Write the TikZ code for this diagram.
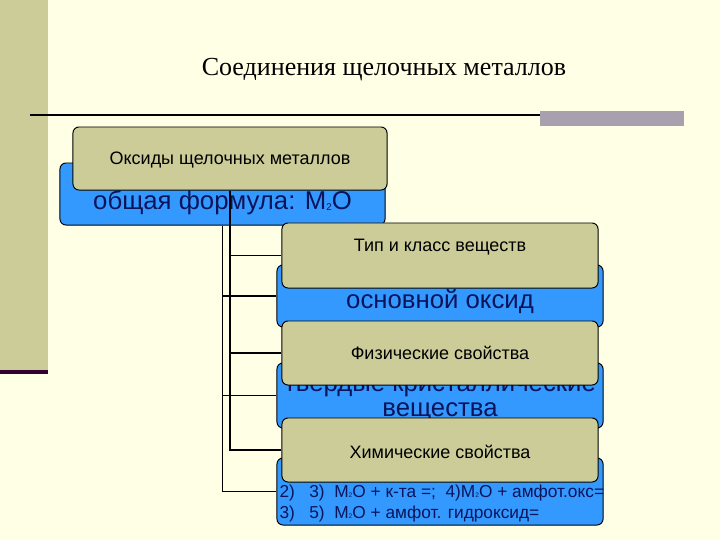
\documentclass[tikz,border=0pt]{standalone}
\usepackage{fontspec}
\setmainfont{Liberation Sans}
\newfontfamily\titlefont{Liberation Serif}
\usepackage{tikz}
\usetikzlibrary{positioning}

\definecolor{paper}{RGB}{255,255,229}
\definecolor{khaki}{RGB}{204,204,153}
\definecolor{boxblue}{RGB}{51,153,255}
\definecolor{navytext}{RGB}{10,20,90}
\definecolor{plum}{RGB}{51,0,51}
\definecolor{bargray}{RGB}{168,160,174}

\newcommand{\tinysub}[1]{\raisebox{-0.02em}{\fontsize{0.38em}{0.4em}\selectfont #1}}

\tikzset{
    khakibox/.style={draw=black, fill=khaki, rounded corners=0.15cm, line width=0.7pt,
        minimum width=7.9cm, minimum height=1.6cm, inner sep=0pt},
    bluebox/.style={draw=black, fill=boxblue, rounded corners=0.15cm, line width=0.7pt,
        minimum width=8.15cm, minimum height=1.55cm, inner sep=0pt},
    khakitext/.style={inner sep=0pt, font=\fontsize{12.8}{15}\selectfont},
    bluetext/.style={inner sep=0pt, text=navytext, align=center, font=\fontsize{18.3}{18}\selectfont},
    branch/.style={line width=1.4pt}
}

\begin{document}
\begin{tikzpicture}[x=0.025cm, y=-0.025cm]
    \fill[paper] (0,0) rectangle (720,540);
    \useasboundingbox (0,0) rectangle (720,540);
    \fill[khaki] (0,0) rectangle (48,370);
    \fill[plum] (0,370) rectangle (48,374);
    \draw[line width=1.5pt] (30,115) -- (540,115);
    \fill[bargray] (540,111) rectangle (684,126);

    \node[font=\titlefont\fontsize{18.5}{20}\selectfont] (title) at (384,70) {Соединения щелочных металлов};

    % top level
    \node[bluebox, minimum width=8.125cm] (b1) at (222.5,194) {};
    \node[khakibox, minimum width=7.85cm, minimum height=1.575cm] (k1) at (230,158.5) {};
    \node[khakitext] (k1t) at ([yshift=-0.04cm]k1.center) {Оксиды щелочных металлов};
    \node[bluetext] (b1t) at ([yshift=-0.22cm]b1.center) {общая формула: M\tinysub{2}O};

    % second level
    \node[bluebox] (b2) at (440,296) {};
    \node[bluetext] (b2t) at ([yshift=-0.15cm]b2.center) {основной оксид};
    \node[khakibox, minimum height=1.625cm] (k2) at (440,255.5) {};
    \node[khakitext] (k2t) at ([yshift=0.21cm]k2.center) {Тип и класс веществ};

    \node[bluebox, minimum height=1.625cm] (b3) at (440,395.5) {};
    \node[bluetext] (b3t) at ([yshift=-0.1cm]b3.center) {твердые кристаллические\\вещества};
    \node[khakibox] (k3) at (440,353) {};
    \node[khakitext] (k3t) at (k3.center) {Физические свойства};

    \node[bluebox, minimum height=1.675cm] (b4) at (440,491.5) {};
    \node[bluetext, anchor=west, align=left, font=\fontsize{12.3}{15}\selectfont]
        (b4t) at ([xshift=0.07cm, yshift=-0.3cm]b4.west)
        {2)\ \ \ 3)\ \ M\tinysub{2}O + к-та =;\ \ 4)M\tinysub{2}O + амфот.окс=\\
         3)\ \ \ 5)\ \ M\tinysub{2}O + амфот. гидроксид=};
    \node[khakibox] (k4) at (440,450) {};
    \node[khakitext] (k4t) at ([yshift=-0.05cm]k4.center) {Химические свойства};

    \draw[branch] (k1.south) |- (k2.west);
    \draw[branch] (k1.south) |- (k3.west);
    \draw[branch] (k1.south) |- (k4.west);
    \draw[branch] (b1.south) |- (b2.west);
    \draw[branch] (b1.south) |- (b3.west);
    \draw[branch] (b1.south) |- (b4.west);
\end{tikzpicture}
\end{document}
